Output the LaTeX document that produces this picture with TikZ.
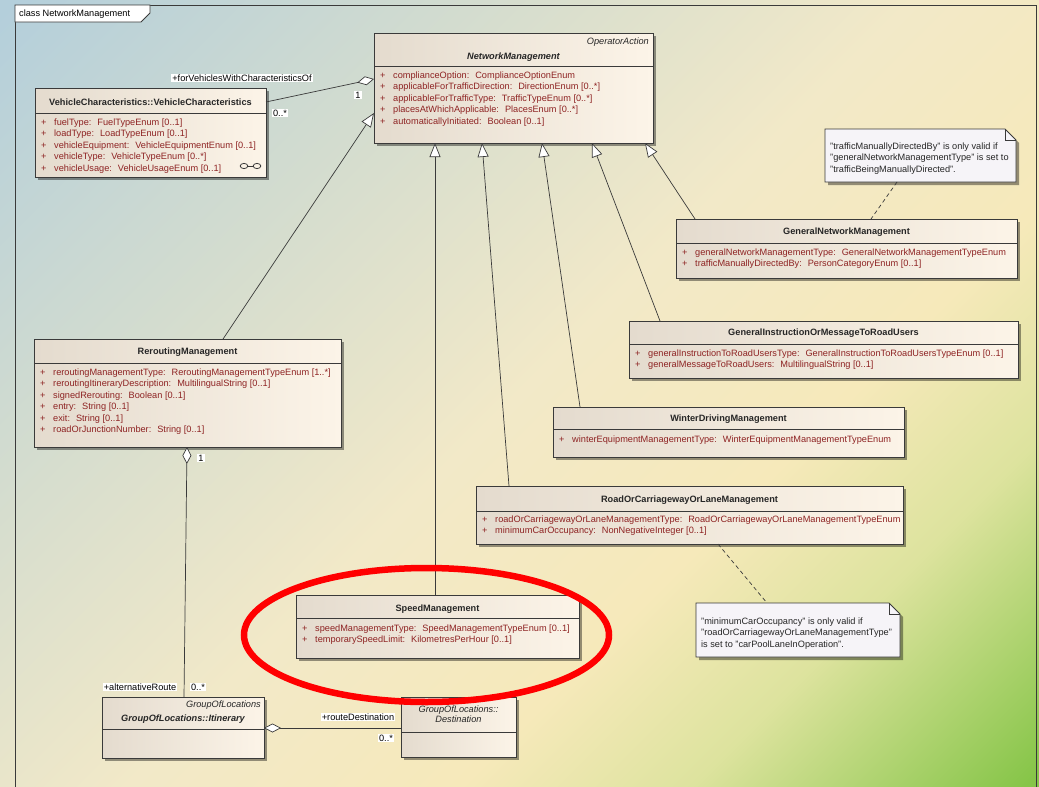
\documentclass[tikz,border=0pt]{standalone}
\usepackage{fontspec}
\setmainfont{Liberation Sans}
\usetikzlibrary{arrows.meta,shadows}

\definecolor{bgblue}{HTML}{B4CFDB}
\definecolor{bggray}{HTML}{D3DCCF}
\definecolor{bgcream}{HTML}{F2E9C8}
\definecolor{bgyellow}{HTML}{F6E9BA}
\definecolor{bglime}{HTML}{DDE39E}
\definecolor{bggreen}{HTML}{86C548}
\definecolor{boxleft}{HTML}{E4DBCE}
\definecolor{boxright}{HTML}{FCF4E8}
\definecolor{attrred}{HTML}{8E2323}
\definecolor{linegray}{HTML}{3A3A3A}
\definecolor{notewhite}{HTML}{F6F4F8}

\pgfdeclarehorizontalshading{bgshade}{100bp}{color(0bp)=(bgblue); color(15bp)=(bgblue); color(33bp)=(bggray); color(50bp)=(bgcream); color(63bp)=(bgyellow); color(72bp)=(bglime); color(85bp)=(bggreen); color(100bp)=(bggreen)}

\newcommand{\umlfont}{\fontsize{9.2}{11.5}\selectfont}
\newcommand{\umlattr}[1]{\strut\makebox[13pt][l]{+}#1}

\tikzstyle{classbox} = [draw=linegray, line width=0.9pt, rectangle, anchor=north west, outer sep=0pt, inner sep=0pt, left color=boxleft, right color=boxright, drop shadow={shadow xshift=3pt, shadow yshift=-3pt, fill=black, opacity=0.4}]
\tikzstyle{divline} = [draw=linegray, line width=0.8pt]
\tikzstyle{classname} = [inner sep=0pt, font=\umlfont\bfseries, text=black!85]
\tikzstyle{stereo} = [inner sep=0pt, anchor=east, font=\umlfont\itshape, text=black!85]
\tikzstyle{attrlist} = [anchor=north west, inner sep=0pt, align=left, font=\umlfont, text=attrred]
\tikzstyle{rolelabel} = [fill=white, inner sep=1pt, font=\umlfont]
\tikzstyle{genline} = [draw=linegray, line width=0.7pt, -{Triangle[fill=white, length=14pt, width=11pt]}]
\tikzstyle{aggrline} = [draw=linegray, line width=0.7pt, -{Diamond[fill=white, length=17pt, width=9pt]}]
\tikzstyle{assocline} = [draw=linegray, line width=0.7pt]
\tikzstyle{notelink} = [draw=linegray, line width=0.7pt, dash pattern=on 4pt off 3pt]
\tikzstyle{notebox} = [rectangle, anchor=north west, outer sep=0pt, inner sep=0pt]
\tikzstyle{noteshape} = [draw=linegray, line width=0.8pt, fill=notewhite, drop shadow={shadow xshift=3pt, shadow yshift=-3pt, fill=black, opacity=0.4}]
\tikzstyle{notetext} = [anchor=north west, inner sep=0pt, align=left, font=\umlfont, text=black!85]
\tikzstyle{redring} = [draw=red, line width=6.5pt]

% class box with its header line
\newcommand{\umlclass}[6]{%
  \node[classbox, minimum width=#4pt, minimum height=#5pt] (#1) at (#2,#3) {};
  \draw[divline] ([yshift=-#6pt]#1.north west) -- ([yshift=-#6pt]#1.north east);
}

\begin{document}
\begin{tikzpicture}[x=1pt, y=-1pt]
\useasboundingbox (0,0) rectangle (1039,787);
\shade[shading=bgshade, shading angle=-45] (0,0) rectangle (1039,787);

% frame
\draw[linegray, line width=0.9pt] (15,787) -- (15,5) -- (1036,5) -- (1036,787);
\filldraw[fill=white, draw=linegray, line width=0.8pt] (15,5) -- (150,5) -- (150,13) -- (141,22) -- (15,22) -- cycle;
\node[anchor=west, inner sep=0pt, font=\umlfont] (frametitle) at (19,14) {class NetworkManagement};

% classes
\umlclass{vehchar}{35}{88}{231}{89}{25}
\node[classname] (vehchar-name) at ([yshift=-14pt]vehchar.north) {VehicleCharacteristics::VehicleCharacteristics};
\node[attrlist] (vehchar-attrs) at ([xshift=6pt,yshift=-29pt]vehchar.north west) {%
\umlattr{fuelType:~ FuelTypeEnum [0..1]}\\
\umlattr{loadType:~ LoadTypeEnum [0..1]}\\
\umlattr{vehicleEquipment:~ VehicleEquipmentEnum [0..1]}\\
\umlattr{vehicleType:~ VehicleTypeEnum [0..*]}\\
\umlattr{vehicleUsage:~ VehicleUsageEnum [0..1]}};
\draw[linegray, line width=0.8pt] (244,166) ellipse [x radius=3.8pt, y radius=2.6pt] (257,166) ellipse [x radius=3.8pt, y radius=2.6pt];
\draw[linegray, line width=0.8pt] (247.8,166) -- (253.2,166);

\umlclass{netman}{374}{33}{279}{110}{33}
\node[stereo] (netman-stereo) at ([xshift=-4pt,yshift=-9pt]netman.north east) {OperatorAction};
\node[classname, font=\umlfont\bfseries\itshape] (netman-name) at ([yshift=-24pt]netman.north) {NetworkManagement};
\node[attrlist] (netman-attrs) at ([xshift=6pt,yshift=-37pt]netman.north west) {%
\umlattr{complianceOption:~ ComplianceOptionEnum}\\
\umlattr{applicableForTrafficDirection:~ DirectionEnum [0..*]}\\
\umlattr{applicableForTrafficType:~ TrafficTypeEnum [0..*]}\\
\umlattr{placesAtWhichApplicable:~ PlacesEnum [0..*]}\\
\umlattr{automaticallyInitiated:~ Boolean [0..1]}};

\umlclass{gennet}{676}{219}{341}{59}{24}
\node[classname] (gennet-name) at ([yshift=-13pt]gennet.north) {GeneralNetworkManagement};
\node[attrlist] (gennet-attrs) at ([xshift=6pt,yshift=-28pt]gennet.north west) {%
\umlattr{generalNetworkManagementType:~ GeneralNetworkManagementTypeEnum}\\
\umlattr{trafficManuallyDirectedBy:~ PersonCategoryEnum [0..1]}};

\umlclass{geninstr}{629}{321}{389}{57}{23}
\node[classname] (geninstr-name) at ([yshift=-12pt]geninstr.north) {GeneralInstructionOrMessageToRoadUsers};
\node[attrlist] (geninstr-attrs) at ([xshift=6pt,yshift=-27pt]geninstr.north west) {%
\umlattr{generalInstructionToRoadUsersType:~ GeneralInstructionToRoadUsersTypeEnum [0..1]}\\
\umlattr{generalMessageToRoadUsers:~ MultilingualString [0..1]}};

\umlclass{winter}{553}{407}{351}{50}{22}
\node[classname] (winter-name) at ([yshift=-12pt]winter.north) {WinterDrivingManagement};
\node[attrlist] (winter-attrs) at ([xshift=6pt,yshift=-27pt]winter.north west) {%
\umlattr{winterEquipmentManagementType:~ WinterEquipmentManagementTypeEnum}};

\umlclass{road}{476}{486}{427}{58}{25}
\node[classname] (road-name) at ([yshift=-14pt]road.north) {RoadOrCarriagewayOrLaneManagement};
\node[attrlist] (road-attrs) at ([xshift=6pt,yshift=-28pt]road.north west) {%
\umlattr{roadOrCarriagewayOrLaneManagementType:~ RoadOrCarriagewayOrLaneManagementTypeEnum}\\
\umlattr{minimumCarOccupancy:~ NonNegativeInteger [0..1]}};

\umlclass{speed}{296}{595}{283}{63}{23}
\node[classname] (speed-name) at ([yshift=-14pt]speed.north) {SpeedManagement};
\node[attrlist] (speed-attrs) at ([xshift=6pt,yshift=-28pt]speed.north west) {%
\umlattr{speedManagementType:~ SpeedManagementTypeEnum [0..1]}\\
\umlattr{temporarySpeedLimit:~ KilometresPerHour [0..1]}};

\umlclass{rerout}{34}{339}{307}{108}{24}
\node[classname] (rerout-name) at ([yshift=-13pt]rerout.north) {ReroutingManagement};
\node[attrlist] (rerout-attrs) at ([xshift=6pt,yshift=-28pt]rerout.north west) {%
\umlattr{reroutingManagementType:~ ReroutingManagementTypeEnum [1..*]}\\
\umlattr{reroutingItineraryDescription:~ MultilingualString [0..1]}\\
\umlattr{signedRerouting:~ Boolean [0..1]}\\
\umlattr{entry:~ String [0..1]}\\
\umlattr{exit:~ String [0..1]}\\
\umlattr{roadOrJunctionNumber:~ String [0..1]}};

\umlclass{itin}{102}{697}{162}{61}{32}
\node[stereo] (itin-stereo) at ([xshift=-3pt,yshift=-8pt]itin.north east) {GroupOfLocations};
\node[classname, font=\umlfont\bfseries\itshape] (itin-name) at ([yshift=-22pt]itin.north) {GroupOfLocations::Itinerary};

\umlclass{dest}{401}{697}{115}{60}{35}
\node[classname, align=center, font=\fontsize{9.2}{10.5}\selectfont\itshape] (dest-name) at ([yshift=-17pt]dest.north) {GroupOfLocations::\\Destination};

% notes
\node[notebox, minimum width=191pt, minimum height=53pt] (note1) at (825,129) {};
\filldraw[noteshape] (note1.north west) -- ([xshift=-11pt]note1.north east) -- ([yshift=-11pt]note1.north east) -- (note1.south east) -- (note1.south west) -- cycle;
\draw[linegray, line width=0.7pt] ([xshift=-11pt]note1.north east) |- ([yshift=-11pt]note1.north east);
\node[notetext] (note1-text) at ([xshift=5pt,yshift=-12pt]note1.north west) {%
\strut"trafficManuallyDirectedBy" is only valid if\\
\strut"generalNetworkManagementType" is set to\\
\strut"trafficBeingManuallyDirected".};

\node[notebox, minimum width=204pt, minimum height=54pt] (note2) at (696,603) {};
\filldraw[noteshape] (note2.north west) -- ([xshift=-11pt]note2.north east) -- ([yshift=-11pt]note2.north east) -- (note2.south east) -- (note2.south west) -- cycle;
\draw[linegray, line width=0.7pt] ([xshift=-11pt]note2.north east) |- ([yshift=-11pt]note2.north east);
\node[notetext] (note2-text) at ([xshift=5pt,yshift=-13pt]note2.north west) {%
\strut"minimumCarOccupancy" is only valid if\\
\strut"roadOrCarriagewayOrLaneManagementType"\\
\strut is set to "carPoolLaneInOperation".};

% generalisations
\draw[genline] ([xshift=139pt]speed.north west) -- ([xshift=61pt]netman.south west);
\draw[genline] ([xshift=33pt]road.north west) -- ([xshift=108pt]netman.south west);
\draw[genline] ([xshift=27pt]winter.north west) -- ([xshift=168pt]netman.south west);
\draw[genline] ([xshift=31pt]geninstr.north west) -- ([xshift=218pt]netman.south west);
\draw[genline] ([xshift=19pt]gennet.north west) -- ([xshift=271pt]netman.south west);
\draw[genline] ([xshift=189pt]rerout.north west) -- ([yshift=-80pt]netman.north west);

% associations
\draw[aggrline] ([yshift=-14pt]vehchar.north east) -- ([yshift=-46pt]netman.north west);
\draw[aggrline] ([xshift=82pt]itin.north west) -- ([xshift=153pt]rerout.south west);
\draw[aggrline] ([yshift=-31pt]dest.north west) -- ([yshift=-31pt]itin.north east);
\draw[notelink] ([xshift=72pt]note1.south west) -- ([xshift=195pt]gennet.north west);
\draw[notelink] ([xshift=242pt]road.south west) -- ([xshift=71pt]note2.north west);

\node[rolelabel] (vehrole) at (242,78) {+forVehiclesWithCharacteristicsOf};
\node[rolelabel] (vehmult) at (280,113) {0..*};
\node[rolelabel] (netmult) at (358,95) {1};
\node[rolelabel] (rermult) at (201,458) {1};
\node[rolelabel] (altrole) at (140,687) {+alternativeRoute};
\node[rolelabel] (altmult) at (198,687) {0..*};
\node[rolelabel] (destrole) at (358,717) {+routeDestination};
\node[rolelabel] (destmult) at (386,738) {0..*};

% highlight
\draw[redring] (426.5,635) ellipse [x radius=182.5pt, y radius=67pt];
\end{tikzpicture}
\end{document}
